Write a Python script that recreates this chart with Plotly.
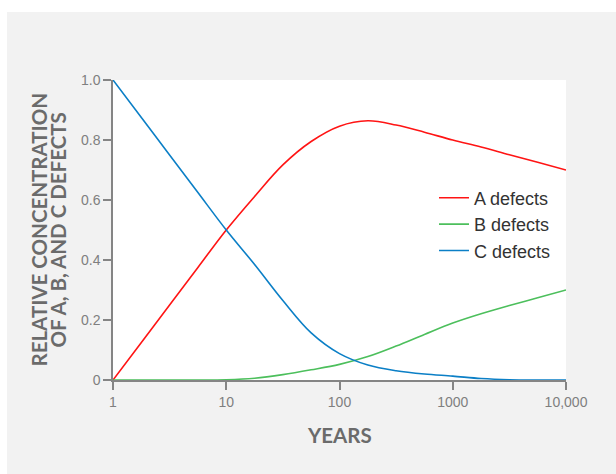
import plotly.graph_objects as go

# Data (x = years, log scale)
years = [1, 1.78, 3.16, 5.62, 10, 17.8, 31.6, 56.2, 100, 178, 316, 562, 1000, 1778, 3162, 5623, 10000]
a_defects = [0.0, 0.125, 0.25, 0.375, 0.5, 0.612, 0.717, 0.795, 0.846, 0.864, 0.85, 0.826, 0.80, 0.777, 0.751, 0.726, 0.70]
b_defects = [0.0, 0.0, 0.0, 0.0, 0.001, 0.006, 0.018, 0.034, 0.052, 0.078, 0.113, 0.152, 0.19, 0.221, 0.248, 0.274, 0.30]
c_defects = [1.0, 0.875, 0.75, 0.625, 0.5, 0.385, 0.265, 0.157, 0.088, 0.05, 0.031, 0.02, 0.013, 0.005, 0.001, 0.0, 0.0]

x_tickvals = [1, 10, 100, 1000, 10000]
x_ticktext = ["1", "10", "100", "1000", "10,000"]
y_tickvals = [0, 0.2, 0.4, 0.6, 0.8, 1.0]
y_ticktext = ["0", "0.2", "0.4", "0.6", "0.8", "1.0"]

series = [
    ("A defects", a_defects, "#ff1414"),
    ("B defects", b_defects, "#4cbf5c"),
    ("C defects", c_defects, "#0b7fc6"),
]

fig = go.Figure()
for name, vals, col in series:
    fig.add_trace(go.Scatter(x=years, y=vals, name=name, mode="lines",
                             line=dict(color=col, width=1.6, shape="spline", smoothing=1.0)))

L, R, T, B = 113, 50, 80, 94
W, H = 616, 474
pw, ph = W - L - R, H - T - B

def px_x(px):
    return (px - L) / pw

def px_y(py):
    return (H - B - py) / ph

title_font = dict(family="Lato", size=20.5, color="#6b6b6b")

fig.update_layout(
    width=W, height=H,
    margin=dict(l=L, r=R, t=T, b=B, pad=0),
    paper_bgcolor="#f2f2f2",
    plot_bgcolor="#ffffff",
    showlegend=True,
    legend=dict(x=px_x(434), y=px_y(224.5), xanchor="left", yanchor="middle",
                bgcolor="rgba(0,0,0,0)", font=dict(family="Liberation Sans, Arial", size=18, color="#333333"),
                tracegroupgap=0),
    xaxis=dict(type="log", range=[0, 4], tickvals=x_tickvals, ticktext=x_ticktext,
               showgrid=False, zeroline=False, showline=True, linecolor="#858585", linewidth=1.5,
               ticks="outside", ticklen=8, tickwidth=1.5, tickcolor="#858585",
               tickfont=dict(family="Liberation Sans, Arial", size=14, color="#7f7f7f")),
    yaxis=dict(range=[0, 1], tickvals=y_tickvals, ticktext=y_ticktext,
               showgrid=False, zeroline=False, showline=True, linecolor="#858585", linewidth=1.5,
               ticks="outside", ticklen=8, tickwidth=1.5, tickcolor="#858585",
               tickfont=dict(family="Liberation Sans, Arial", size=14, color="#7f7f7f")),
    shapes=[
        dict(type="rect", xref="paper", yref="paper", x0=px_x(0), x1=px_x(W), y0=px_y(12), y1=px_y(0),
             fillcolor="#ffffff", line=dict(width=0), layer="below"),
        dict(type="rect", xref="paper", yref="paper", x0=px_x(0), x1=px_x(7), y0=px_y(H), y1=px_y(0),
             fillcolor="#ffffff", line=dict(width=0), layer="below"),
    ],
    annotations=[
        dict(text="<b>YEARS</b>", xref="paper", yref="paper", x=0.5, y=px_y(435),
             xanchor="center", yanchor="middle", showarrow=False, font=title_font),
        dict(text="<b>RELATIVE CONCENTRATION</b>", xref="paper", yref="paper", x=px_x(38.5), y=0.5,
             xanchor="center", yanchor="middle", showarrow=False, textangle=-90, font=title_font),
        dict(text="<b>OF A, B, AND C DEFECTS</b>", xref="paper", yref="paper", x=px_x(57.5), y=0.5,
             xanchor="center", yanchor="middle", showarrow=False, textangle=-90, font=title_font),
    ],
)

fig.write_html("out.html")
